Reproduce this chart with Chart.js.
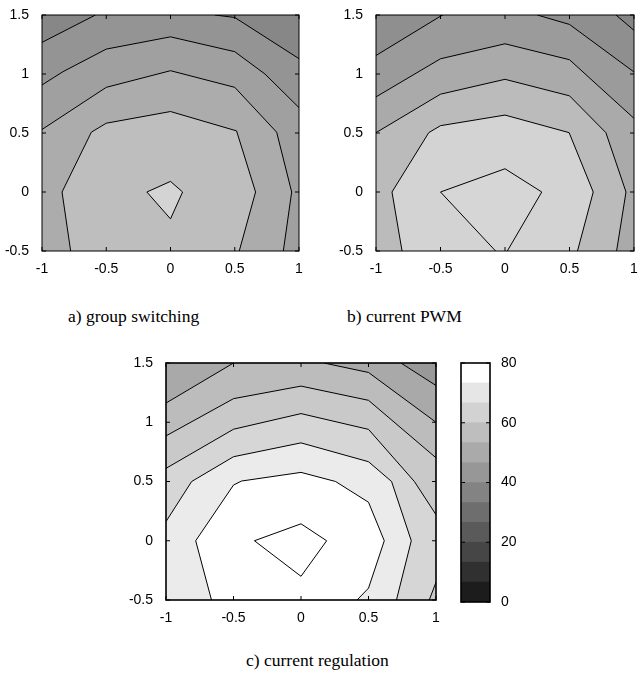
<!DOCTYPE html>
<html>
<head>
<meta charset="utf-8">
<script src="https://cdn.jsdelivr.net/npm/chart.js@4.4.1/dist/chart.umd.min.js"></script>
<style>
    body { margin: 0; background: #fff; width: 644px; height: 675px; position: relative; overflow: hidden; }
    canvas { position: absolute; }
    .cap { position: absolute; font-family: "Liberation Serif", "Times New Roman", serif; font-size: 17.5px; line-height: 20px; color: #000; white-space: nowrap; }
</style>
</head>
<body>
<canvas id="chartA" width="322" height="280" style="left:0;top:0"></canvas>
<canvas id="chartB" width="322" height="280" style="left:322px;top:0"></canvas>
<canvas id="chartC" width="340" height="290" style="left:120px;top:340px"></canvas>
<canvas id="colorBar" width="80" height="290" style="left:440px;top:340px"></canvas>
<div class="cap" style="left:68px;top:306px">a) group switching</div>
<div class="cap" style="left:347px;top:306px">b) current PWM</div>
<div class="cap" style="left:246px;top:650px">c) current regulation</div>
<script>
// 축 범위와 눈금
const xRange = [-1, 1];
const yRange = [-0.5, 1.5];
const xTicks = [-1, -0.5, 0, 0.5, 1];
const yTicks = [-0.5, 0, 0.5, 1, 1.5];

// 컬러바 (0~80, 12단계)
const barLevels = [0, 6.67, 13.33, 20, 26.67, 33.33, 40, 46.67, 53.33, 60, 66.67, 73.33, 80];
const barColors = ['#1c1c1c', '#303030', '#464646', '#5a5a5a', '#6e6e6e', '#838383',
                   '#979797', '#aaaaaa', '#bebebe', '#d2d2d2', '#e6e6e6', '#ffffff'];
const barTicks = [0, 20, 40, 60, 80];

// a) group switching 등고선
const a1 = [[-1, 1.268], [-0.584, 1.5]];
const a1r = [[0.345, 1.5], [0.5, 1.479], [1, 1.13]];
const a2 = [[-1, 0.907], [-0.836, 1.02], [-0.5, 1.211], [0, 1.315], [0.5, 1.189], [0.735, 1.0], [1, 0.715]];
const a3 = [[-1, 0.53], [-0.5, 0.887], [0, 1.028], [0.5, 0.887], [0.826, 0.507], [0.943, 0], [0.878, -0.5]];
const a4 = [[-0.777, -0.5], [-0.844, 0], [-0.616, 0.507], [-0.5, 0.583], [0, 0.682], [0.514, 0.518], [0.662, 0], [0.535, -0.5]];
const a5 = [[-0.184, 0], [0, 0.09], [0.094, 0], [0, -0.228], [-0.184, 0]];
const aColors = ['#878787', '#949494', '#a0a0a0', '#acacac', '#bebebe', '#d4d4d4'];

// b) current PWM 등고선
const b0 = [[0.86, 1.5], [1, 1.37]];
const b1 = [[-1, 1.157], [-0.5, 1.49], [-0.48, 1.5]];
const b1r = [[0.25, 1.5], [0.5, 1.42], [1, 1.017]];
const b2 = [[-1, 0.806], [-0.5, 1.129], [0, 1.256], [0.5, 1.121], [1, 0.624]];
const b3 = [[-1, 0.503], [-0.5, 0.829], [0, 0.955], [0.5, 0.815], [0.782, 0.503], [0.938, 0], [0.865, -0.5]];
const b4 = [[-0.798, -0.5], [-0.876, 0], [-0.591, 0.503], [-0.5, 0.562], [0, 0.652], [0.497, 0.503], [0.684, 0], [0.562, -0.5]];
const b5 = [[-0.073, -0.5], [-0.5, 0], [0, 0.197], [0.285, 0], [0.018, -0.5]];
const bColors = ['#858585', '#8f8f8f', '#9b9b9b', '#aaaaaa', '#bbbbbb', '#d3d3d3', '#d6d6d6'];

// c) current regulation 등고선
const c0 = [[0.74, 1.5], [1, 1.31]];
const c1 = [[-1, 1.162], [-0.5, 1.5]];
const c1r = [[0.17, 1.5], [0.5, 1.42], [1, 1.0]];
const c2 = [[-1, 0.885], [-0.5, 1.199], [0, 1.305], [0.5, 1.185], [1, 0.70]];
const c3 = [[-1, 0.611], [-0.5, 0.941], [0, 1.073], [0.5, 0.94], [0.84, 0.5], [1, 0.22]];
const c3r = [[1, -0.35], [0.95, -0.5]];
const c4 = [[-1, 0.162], [-0.81, 0.5], [-0.5, 0.709], [0, 0.826], [0.5, 0.667], [0.671, 0.5], [0.817, 0], [0.707, -0.5]];
const c5 = [[-0.663, -0.5], [-0.78, 0], [-0.5, 0.47], [-0.44, 0.504], [0, 0.577], [0.256, 0.5], [0.5, 0.325], [0.617, 0], [0.5, -0.4], [0.415, -0.5]];
const c6 = [[-0.345, 0], [0, 0.143], [0.19, 0], [0, -0.3], [-0.345, 0]];
const cColors = ['#999999', '#a9a9a9', '#bcbcbc', '#c9c9c9', '#d6d6d6', '#ebebeb', '#ffffff', '#ffffff'];

// 모서리
const BL = [xRange[0], yRange[0]];
const TL = [xRange[0], yRange[1]];
const TR = [xRange[1], yRange[1]];
const BR = [xRange[1], yRange[0]];

const toPts = arr => arr.map(([x, y]) => ({ x: x, y: y }));

// 채운 영역 (아래에서 위로 칠함)
function areas(polys, colors) {
    return polys.map((p, i) => ({
        data: toPts([...p, p[0]]),
        fill: 'shape',
        backgroundColor: colors[i],
        borderWidth: 0,
        borderColor: 'rgba(0,0,0,0)',
        pointRadius: 0,
        order: 100 - i
    }));
}

// 등고선
function lines(paths) {
    return paths.map(p => ({
        data: toPts(p),
        fill: false,
        borderColor: '#000',
        borderWidth: 1,
        pointRadius: 0,
        order: 0
    }));
}

const tickFont = { family: '"Liberation Sans", Arial, sans-serif', size: 14 };

// 테두리와 안쪽 눈금
const framePlugin = {
    id: 'frame',
    afterDatasetsDraw(chart, args, opts) {
        const { ctx, chartArea: ca } = chart;
        ctx.save();
        ctx.strokeStyle = '#000';
        ctx.lineWidth = 1;
        ctx.beginPath();
        const len = 4;
        if (opts.xTicks) {
            opts.xTicks.forEach(v => {
                const px = chart.scales.x.getPixelForValue(v);
                ctx.moveTo(px, ca.bottom); ctx.lineTo(px, ca.bottom - len);
                ctx.moveTo(px, ca.top); ctx.lineTo(px, ca.top + len);
            });
        }
        opts.yTicks.forEach(v => {
            const py = chart.scales.y.getPixelForValue(v);
            ctx.moveTo(ca.left, py); ctx.lineTo(ca.left + len, py);
            ctx.moveTo(ca.right, py); ctx.lineTo(ca.right - len, py);
        });
        ctx.stroke();
        ctx.lineWidth = opts.width;
        ctx.strokeRect(ca.left, ca.top, ca.right - ca.left, ca.bottom - ca.top);
        ctx.restore();
    }
};

function contourChart(id, datasets, pad, yWidth, xHeight, frameWidth) {
    return new Chart(document.getElementById(id), {
        type: 'line',
        data: { datasets: datasets },
        options: {
            responsive: false,
            animation: false,
            layout: { padding: pad },
            elements: { line: { tension: 0 }, point: { radius: 0 } },
            plugins: {
                legend: { display: false },
                tooltip: { enabled: false },
                frame: { width: frameWidth, xTicks: xTicks, yTicks: yTicks }
            },
            scales: {
                x: {
                    type: 'linear',
                    min: xRange[0],
                    max: xRange[1],
                    grid: { display: false },
                    border: { display: false },
                    afterBuildTicks: s => { s.ticks = xTicks.map(v => ({ value: v })); },
                    afterFit: s => { s.height = xHeight; },
                    ticks: { color: '#000', font: tickFont, padding: 2, maxRotation: 0, autoSkip: false, callback: v => String(v) }
                },
                y: {
                    type: 'linear',
                    min: yRange[0],
                    max: yRange[1],
                    grid: { display: false },
                    border: { display: false },
                    afterBuildTicks: s => { s.ticks = yTicks.map(v => ({ value: v })); },
                    afterFit: s => { s.width = yWidth; },
                    ticks: { color: '#000', font: tickFont, padding: 5, autoSkip: false, callback: v => String(v) }
                }
            }
        },
        plugins: [framePlugin]
    });
}

// a) group switching
contourChart('chartA', [
    ...lines([a1, a1r, a2, a3, a4, a5]),
    ...areas([
        [BL, TL, TR, BR],
        [...a1, ...a1r, BR, BL],
        [...a2, BR, BL],
        [...a3, BL],
        a4,
        a5
    ], aColors)
], { top: 15, right: 23, left: 0, bottom: 0 }, 42, 29, 1);

// b) current PWM
contourChart('chartB', [
    ...lines([b0, b1, b1r, b2, b3, b4, b5]),
    ...areas([
        [BL, TL, TR, BR],
        [BL, TL, ...b0, BR],
        [...b1, ...b1r, BR, BL],
        [...b2, BR, BL],
        [...b3, BL],
        b4,
        b5
    ], bColors)
], { top: 15, right: 10, left: 0, bottom: 0 }, 54, 29, 1);

// c) current regulation
contourChart('chartC', [
    ...lines([c0, c1, c1r, c2, c3, c3r, c4, c5, c6]),
    ...areas([
        [BL, TL, TR, BR],
        [BL, TL, ...c0, BR],
        [...c1, ...c1r, BR, BL],
        [...c2, BR, BL],
        [...c3, ...c3r, BL],
        [...c4, BL],
        c5,
        c6
    ], cColors)
], { top: 23, right: 24, left: 0, bottom: 0 }, 46, 30, 1.6);

// 컬러바
new Chart(document.getElementById('colorBar'), {
    type: 'bar',
    data: {
        labels: [''],
        datasets: barColors.map((c, i) => ({
            data: [[barLevels[i], barLevels[i + 1]]],
            backgroundColor: c,
            borderWidth: 0,
            barPercentage: 1,
            categoryPercentage: 1,
            grouped: false
        }))
    },
    options: {
        responsive: false,
        animation: false,
        layout: { padding: { top: 23, left: 21, right: 0, bottom: 28 } },
        plugins: {
            legend: { display: false },
            tooltip: { enabled: false },
            frame: { width: 1.6, yTicks: barTicks }
        },
        scales: {
            x: { display: false },
            y: {
                position: 'right',
                min: 0,
                max: 80,
                grid: { display: false },
                border: { display: false },
                afterBuildTicks: s => { s.ticks = barTicks.map(v => ({ value: v })); },
                afterFit: s => { s.width = 30; },
                ticks: { color: '#000', font: tickFont, padding: 3, callback: v => String(v) }
            }
        }
    },
    plugins: [framePlugin]
});
</script>
</body>
</html>
